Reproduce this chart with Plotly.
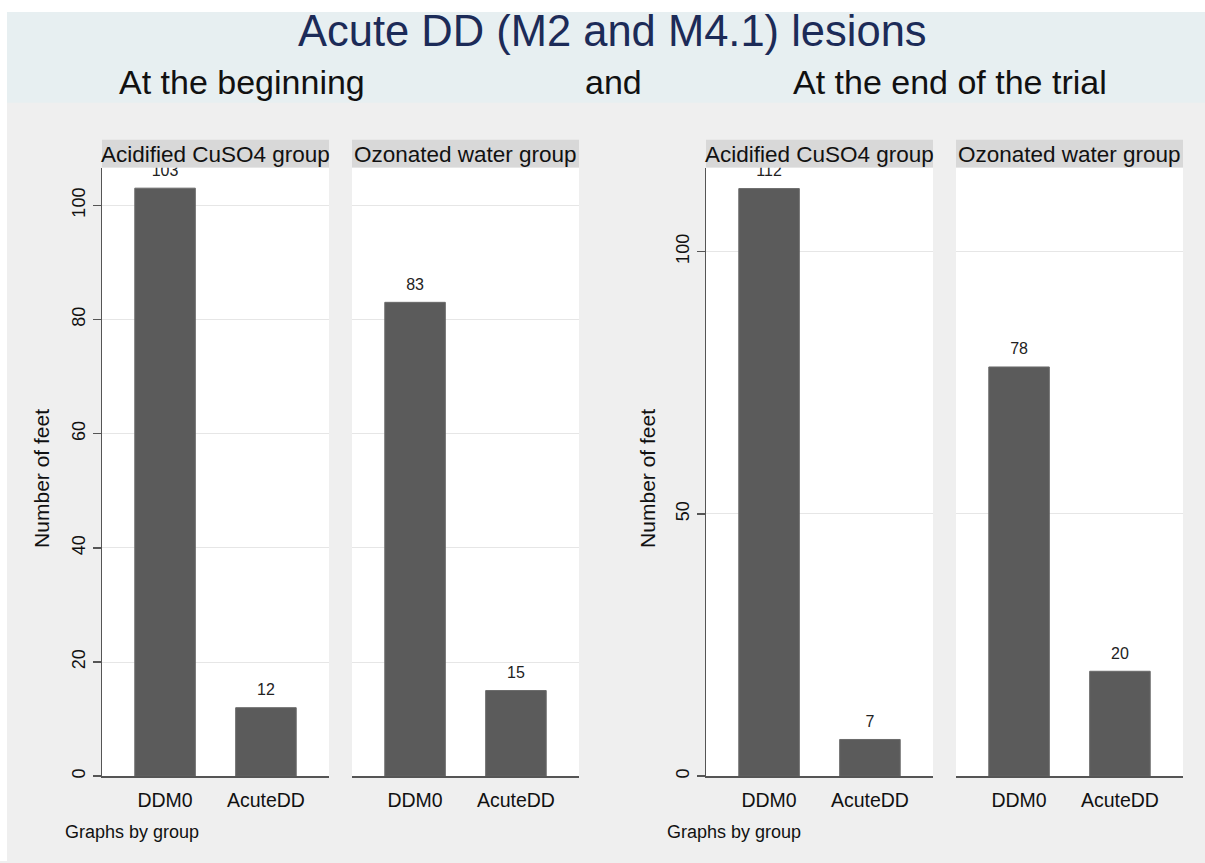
import plotly.graph_objects as go

W, H = 1205, 863

# ---------------- data ----------------
categories = ["DDM0", "AcuteDD"]
group_names = ["Acidified CuSO4 group", "Ozonated water group"]
begin_cuso4 = [103, 12]
begin_ozone = [83, 15]
end_cuso4 = [112, 7]
end_ozone = [78, 20]
main_title = "Acute DD (M2 and M4.1) lesions"
sub_titles = ["At the beginning", "and", "At the end of the trial"]
y_title = "Number of feet"
note_text = "Graphs by group"
left_ticks = [0, 20, 40, 60, 80, 100]
right_ticks = [0, 50, 100]

FONT = "Liberation Sans, Arial, sans-serif"
BAR = "#5b5b5b"
AX = "#555555"
GRID = "#e6e6e6"


def px(x):
    return x / W


def py(y):
    return 1 - y / H


# subplot pixel boxes (x0, x1)
sub_x = [(102, 329), (352, 579), (706, 933), (956, 1183)]
Y_TOP, Y_BOT = 168, 778
STRIP_TOP = 140
series = [begin_cuso4, begin_ozone, end_cuso4, end_ozone]
yranges = [[0, 106.6], [0, 106.6], [0, 116.0], [0, 116.0]]
ticks = [left_ticks, left_ticks, right_ticks, right_ticks]

fig = go.Figure()
layout = dict(
    width=W, height=H,
    margin=dict(l=0, r=0, t=0, b=0),
    paper_bgcolor="#efefef",
    plot_bgcolor="white",
    showlegend=False,
    font=dict(family=FONT, color="#111111"),
)

shapes = [
    dict(type="rect", xref="paper", yref="paper", x0=0, x1=1, y0=py(12), y1=1,
         fillcolor="white", line_width=0, layer="below"),
    dict(type="rect", xref="paper", yref="paper", x0=0, x1=px(7), y0=0, y1=1,
         fillcolor="white", line_width=0, layer="below"),
    dict(type="rect", xref="paper", yref="paper", x0=px(7), x1=1, y0=py(103), y1=py(12),
         fillcolor="#e7eff1", line_width=0, layer="below"),
]
annotations = []

for i in range(4):
    n = "" if i == 0 else str(i + 1)
    xa, ya = "x" + n, "y" + n
    x0, x1 = sub_x[i]
    vals = series[i]
    fig.add_trace(go.Bar(
        x=categories, y=vals, xaxis=xa, yaxis=ya, width=0.6,
        marker=dict(color=BAR, line=dict(color="#6a6a6a", width=1)),
        hoverinfo="skip",
    ))
    fig.add_trace(go.Scatter(
        x=categories, y=vals, xaxis=xa, yaxis=ya,
        mode="markers+text", text=[str(v) for v in vals],
        textposition="top center",
        textfont=dict(size=16, color="#222222", family=FONT),
        marker=dict(size=12, opacity=0), cliponaxis=True, hoverinfo="skip",
    ))
    first = i in (0, 2)
    layout["xaxis" + n] = dict(
        domain=[px(x0), px(x1)], anchor=ya, type="category",
        range=[-0.625, 1.625], showline=True, linecolor=AX, linewidth=1.5,
        ticks="", showgrid=False, zeroline=False,
        tickfont=dict(size=19.5, color="#111111", family=FONT),
        ticklabelstandoff=6, fixedrange=True,
    )
    layout["yaxis" + n] = dict(
        domain=[py(Y_BOT), py(Y_TOP)], anchor=xa, range=yranges[i],
        tickvals=ticks[i], showgrid=True, gridcolor=GRID, gridwidth=1,
        zeroline=False, showline=first, linecolor=AX, linewidth=1.5,
        ticks="outside" if first else "", ticklen=8, tickwidth=1.5, tickcolor=AX,
        showticklabels=first, tickangle=-90,
        tickfont=dict(size=18, color="#111111", family=FONT),
        fixedrange=True,
    )
    # header strip
    shapes.append(dict(type="rect", xref="paper", yref="paper",
                       x0=px(x0), x1=px(x1), y0=py(Y_TOP), y1=py(STRIP_TOP),
                       fillcolor="#d8d8d8", line_width=0, layer="above"))
    annotations.append(dict(
        text=group_names[i % 2], xref="paper", yref="paper",
        x=px((x0 + x1) / 2), y=py((STRIP_TOP + Y_TOP) / 2 + 1),
        xanchor="center", yanchor="middle", showarrow=False,
        font=dict(size=22.5, color="#111111", family=FONT),
    ))

# titles
annotations.append(dict(text=main_title, xref="paper", yref="paper",
                        x=px(612), y=py(31), xanchor="center", yanchor="middle",
                        showarrow=False,
                        font=dict(size=43.5, color="#1c2b58", family=FONT)))
for txt, xl in zip(sub_titles, [117, 583, 791]):
    annotations.append(dict(text=txt, xref="paper", yref="paper",
                            x=px(xl), y=py(82), xanchor="left", yanchor="middle",
                            showarrow=False,
                            font=dict(size=34, color="#111111", family=FONT)))
for xc in [42, 648]:
    annotations.append(dict(text=y_title, xref="paper", yref="paper",
                            x=px(xc), y=py(480), xanchor="center", yanchor="middle",
                            textangle=-90, showarrow=False,
                            font=dict(size=21, color="#111111", family=FONT)))
for xl in [63, 665]:
    annotations.append(dict(text=note_text, xref="paper", yref="paper",
                            x=px(xl), y=py(834), xanchor="left", yanchor="middle",
                            showarrow=False,
                            font=dict(size=18, color="#111111", family=FONT)))

layout["shapes"] = shapes
layout["annotations"] = annotations
fig.update_layout(**layout)
# remove the default 8px body margin so the 1205x863 figure fills the window exactly
fig.write_html("out.html",
               config={"displayModeBar": False, "staticPlot": True},
               post_script="document.body.style.margin='0';"
                           "document.body.style.overflow='hidden';")
